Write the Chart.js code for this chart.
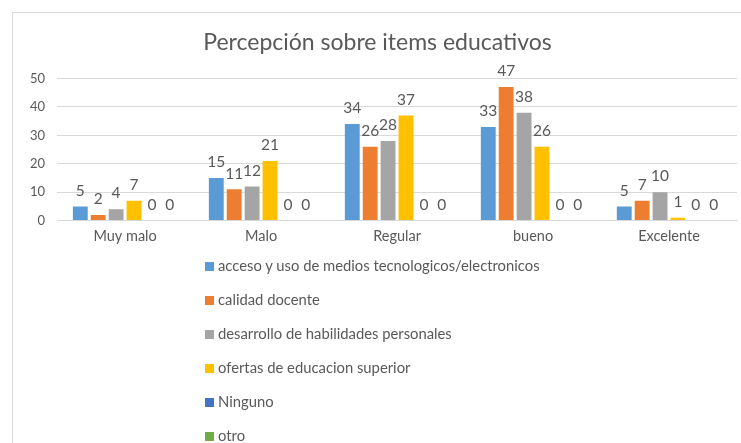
<!DOCTYPE html>
<html>
<head>
<meta charset="utf-8">
<script src="https://cdn.jsdelivr.net/npm/chart.js@4.4.0/dist/chart.umd.min.js"></script>
<style>
  body { margin: 0; background: #fff; width: 741px; height: 443px; overflow: hidden; position: relative; font-family: Lato, sans-serif; }
  #box { position: absolute; left: 12px; top: 12px; width: 740px; height: 440px; border: 1px solid #d9d9d9; box-sizing: border-box; }
  #wrap { position: absolute; left: 12px; top: 12px; width: 729px; height: 245px; }
  #legend { position: absolute; left: 205px; top: 256px; margin: 0; padding: 0; list-style: none; }
  #legend li { height: 34px; line-height: 18px; font-size: 14.8px; color: #595959; }
  #legend span { display: inline-block; width: 9px; height: 9px; margin-right: 4px; vertical-align: 0px; }
</style>
</head>
<body>
<div id="box"></div>
<div id="wrap"><canvas id="myChart"></canvas></div>
<ul id="legend"></ul>
<script>
// categories
const categories = ['Muy malo', 'Malo', 'Regular', 'bueno', 'Excelente'];

// series
const acceso = [5, 15, 34, 33, 5];
const calidad = [2, 11, 26, 47, 7];
const desarrollo = [4, 12, 28, 38, 10];
const ofertas = [7, 21, 37, 26, 1];
const ninguno = [0, 0, 0, 0, 0];
const otro = [0, 0, 0, 0, 0];

const seriesNames = [
  'acceso y uso de medios tecnologicos/electronicos',
  'calidad docente',
  'desarrollo de habilidades personales',
  'ofertas de educacion superior',
  'Ninguno',
  'otro'
];
const colors = ['#5B9BD5', '#ED7D31', '#A5A5A5', '#FFC000', '#4472C4', '#70AD47'];
const seriesData = [acceso, calidad, desarrollo, ofertas, ninguno, otro];

const textGrey = '#595959';

// value labels above the bars
const barLabels = {
  id: 'barLabels',
  afterDatasetsDraw(chart) {
    const c = chart.ctx;
    c.save();
    c.font = '15.5px Lato';
    c.fillStyle = textGrey;
    c.textAlign = 'center';
    c.textBaseline = 'bottom';
    chart.data.datasets.forEach((ds, i) => {
      chart.getDatasetMeta(i).data.forEach((bar, j) => {
        c.fillText(ds.data[j], bar.x, bar.y - 8);
      });
    });
    c.restore();
  }
};

const ctx = document.getElementById('myChart');
const chart = new Chart(ctx, {
  type: 'bar',
  data: {
    labels: categories,
    datasets: seriesData.map((d, i) => ({
      label: seriesNames[i],
      data: d,
      backgroundColor: colors[i],
      categoryPercentage: 0.79,
      barPercentage: 0.83
    }))
  },
  options: {
    responsive: true,
    maintainAspectRatio: false,
    animation: false,
    layout: { padding: { left: 6, right: 4, top: 0, bottom: 5 } },
    plugins: {
      legend: { display: false },
      tooltip: { enabled: false },
      title: {
        display: true,
        text: 'Percepción sobre items educativos',
        color: textGrey,
        font: { family: 'Lato', size: 23, weight: 'normal' },
        padding: { top: 17, bottom: 22 }
      }
    },
    scales: {
      x: {
        grid: { display: false, drawTicks: false },
        border: { color: '#d9d9d9' },
        ticks: { color: textGrey, font: { family: 'Lato', size: 14.5 }, padding: 7 }
      },
      y: {
        min: 0,
        max: 50,
        ticks: { stepSize: 10, color: textGrey, font: { family: 'Lato', size: 13 }, padding: 12 },
        grid: { color: '#d9d9d9', drawTicks: false },
        border: { display: false }
      }
    }
  },
  plugins: [barLabels]
});

// vertical legend built from the datasets
const legendEl = document.getElementById('legend');
chart.data.datasets.forEach(ds => {
  const li = document.createElement('li');
  const sw = document.createElement('span');
  sw.style.background = ds.backgroundColor;
  li.appendChild(sw);
  li.appendChild(document.createTextNode(ds.label));
  legendEl.appendChild(li);
});
</script>
</body>
</html>
